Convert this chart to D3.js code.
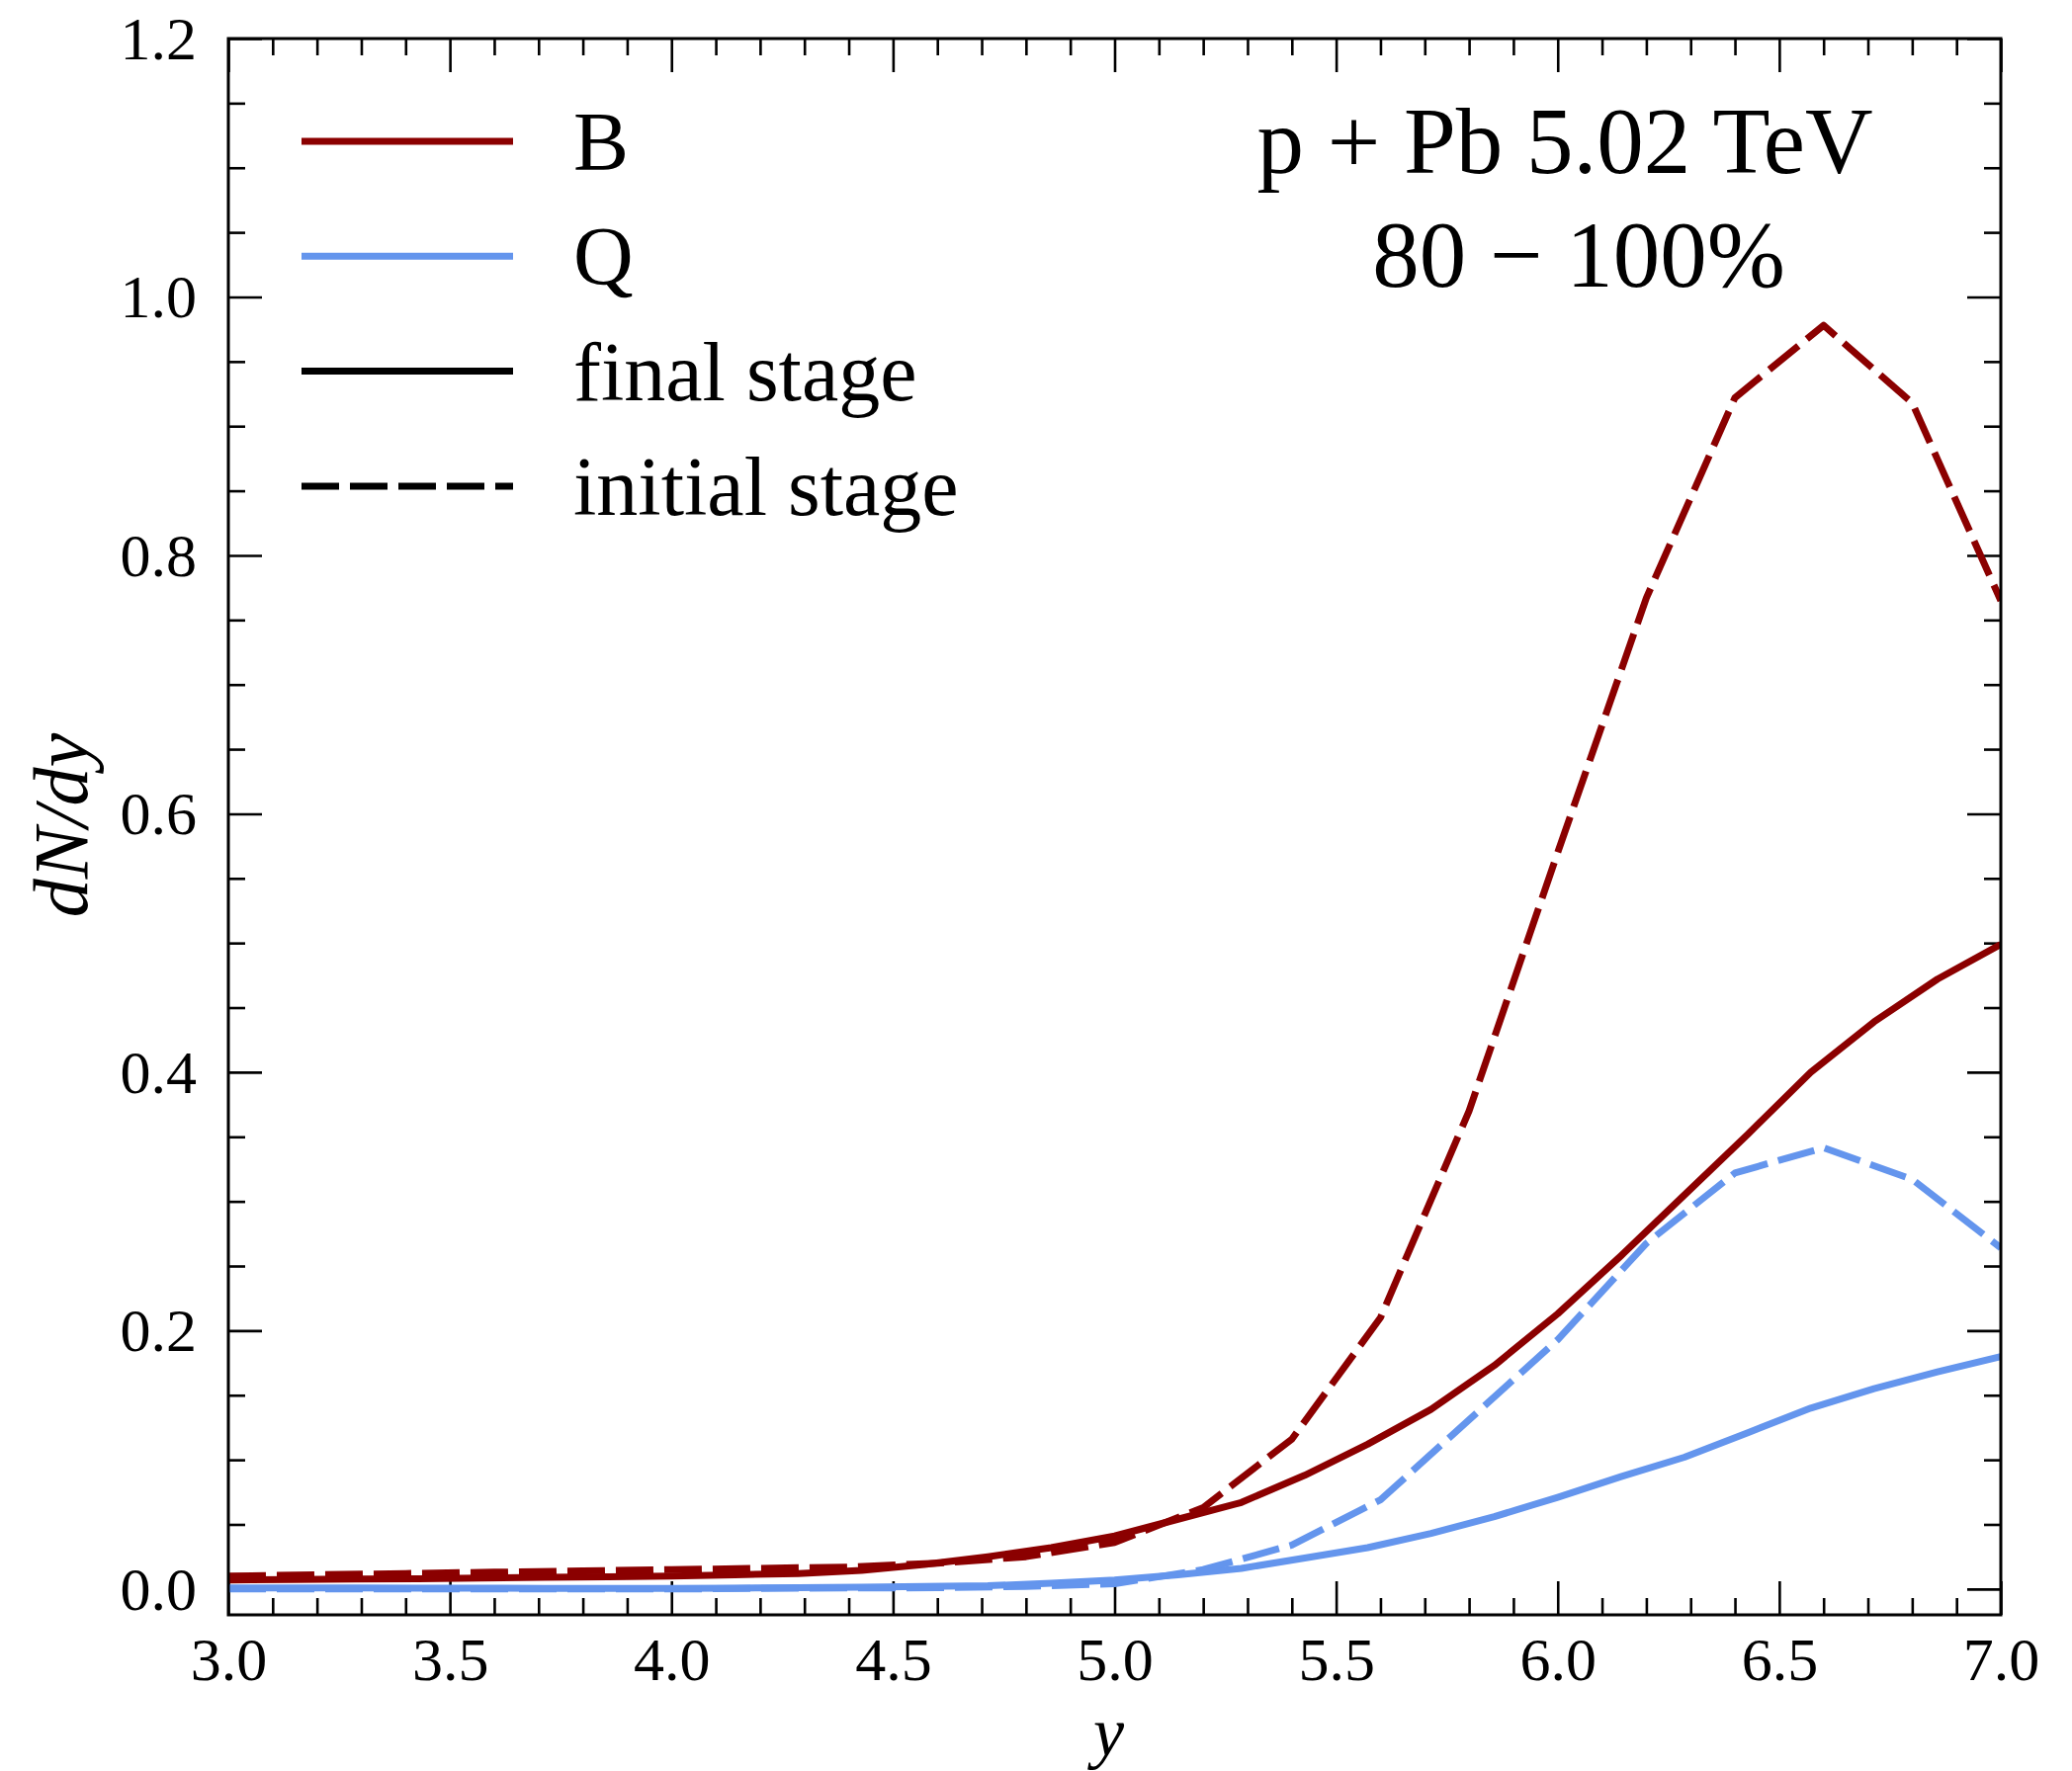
<!DOCTYPE html>
<html lang="en">

<head>
  <meta charset="utf-8">
  <title>dN/dy p+Pb 80-100%</title>
  <script src="https://d3js.org/d3.v7.min.js"></script>
  <style>
    body { margin: 0; background: #fff; }
    text { font-family: "Liberation Serif", "DejaVu Serif", serif; fill: #000; }
  </style>
</head>

<body>
  <div id="chart"></div>
  <script>
    // rapidity grid of the final stage curves
    var finalY = [3.000, 3.143, 3.286, 3.429, 3.571, 3.714, 3.857, 4.000, 4.143, 4.286, 4.429, 4.571, 4.714, 4.857,
      5.000, 5.143, 5.286, 5.429, 5.571, 5.714, 5.857, 6.000, 6.143, 6.286, 6.429, 6.571, 6.714, 6.857, 7.000];
    // rapidity grid of the initial stage curves
    var initialY = [3.0, 3.2, 3.4, 3.6, 3.8, 4.0, 4.2, 4.4, 4.6, 4.8, 5.0, 5.2, 5.4, 5.6, 5.8, 6.0, 6.2, 6.4, 6.6, 6.8, 7.0];

    var bFinal = [0.007, 0.0073, 0.0077, 0.008, 0.0085, 0.009, 0.0095, 0.010, 0.011, 0.012, 0.0145, 0.019, 0.025, 0.032,
      0.041, 0.054, 0.067, 0.088, 0.112, 0.139, 0.173, 0.213, 0.258, 0.305, 0.352, 0.400, 0.439, 0.472, 0.499];
    var qFinal = [0.0008, 0.0008, 0.0008, 0.0007, 0.0006, 0.0005, 0.0005, 0.0005, 0.0007, 0.001, 0.0015, 0.002, 0.0025, 0.0045,
      0.007, 0.011, 0.016, 0.024, 0.032, 0.043, 0.056, 0.071, 0.087, 0.102, 0.121, 0.140, 0.155, 0.168, 0.180];
    var bInitial = [0.010, 0.011, 0.012, 0.013, 0.014, 0.015, 0.016, 0.017, 0.020, 0.025, 0.036, 0.063, 0.116, 0.210,
      0.370, 0.570, 0.767, 0.922, 0.978, 0.918, 0.765];
    var qInitial = [0.000, 0.000, 0.000, 0.000, 0.000, 0.000, 0.0005, 0.0008, 0.001, 0.002, 0.004, 0.015, 0.034, 0.069,
      0.131, 0.193, 0.2675, 0.322, 0.3415, 0.317, 0.264];

    var xMajor = [3.0, 3.5, 4.0, 4.5, 5.0, 5.5, 6.0, 6.5, 7.0];
    var yMajor = [0.0, 0.2, 0.4, 0.6, 0.8, 1.0, 1.2];

    var red = '#8b0000', blue = '#6495ed';
    var dashed = '38,11';

    function draw() {
      var w = 2096, h = 1792;
      var margin = {top: 39, right: 72, bottom: 158, left: 231};
      var innerW = w - margin.left - margin.right,
        innerH = h - margin.top - margin.bottom;

      var svg = d3.select('#chart').append('svg')
          .attr('width', w)
          .attr('height', h);
      var g = svg.append('g')
          .attr('transform', 'translate(' + [margin.left, margin.top] + ')');

      var x = d3.scaleLinear().domain([3, 7]).range([0, innerW]);
      var y = d3.scaleLinear().domain([-0.02, 1.2]).range([innerH, 0]);

      // minor ticks: every 0.1 in y (rapidity), every 0.05 in dN/dy
      var xMinor = d3.range(30, 71).filter(function(d){return d % 5 !== 0;}).map(function(d){return d / 10;});
      var yMinor = d3.range(0, 25).filter(function(d){return d % 4 !== 0;}).map(function(d){return d * 0.05;});

      var fmt = d3.format('.1f');

      // ticks pointing inward on all four sides
      function ticks(axis, vals, size, labels) {
        return axis.tickValues(vals).tickSize(-size).tickFormat(labels ? fmt : '');
      }
      var bottom = g.append('g').attr('transform', 'translate(0,' + innerH + ')');
      bottom.call(ticks(d3.axisBottom(x), xMinor, 17, false));
      bottom.append('g').call(ticks(d3.axisBottom(x), xMajor, 34, true));
      var top = g.append('g');
      top.call(ticks(d3.axisTop(x), xMinor, 17, false));
      top.append('g').call(ticks(d3.axisTop(x), xMajor, 34, false));
      var left = g.append('g');
      left.call(ticks(d3.axisLeft(y), yMinor, 17, false));
      left.append('g').call(ticks(d3.axisLeft(y), yMajor, 34, true).tickPadding(32));
      var right = g.append('g').attr('transform', 'translate(' + innerW + ',0)');
      right.call(ticks(d3.axisRight(y), yMinor, 17, false));
      right.append('g').call(ticks(d3.axisRight(y), yMajor, 34, false));

      g.selectAll('.domain').remove();
      g.selectAll('.tick line').attr('stroke', '#000').attr('stroke-width', 2.6);
      g.selectAll('.tick text').style('font-family', '"Liberation Serif", serif').attr('font-size', 62);
      bottom.selectAll('.tick text').attr('y', 66).attr('dy', null);
      left.selectAll('.tick text').attr('dy', '0.33em');

      // curves
      svg.append('clipPath').attr('id', 'clip')
        .append('rect').attr('width', innerW).attr('height', innerH);
      var line = d3.line()
        .x(function(d){return x(d[0]);})
        .y(function(d){return y(d[1]);});
      var series = [
        {xs: finalY, ys: qFinal, color: blue, dash: null},
        {xs: initialY, ys: qInitial, color: blue, dash: dashed},
        {xs: finalY, ys: bFinal, color: red, dash: null},
        {xs: initialY, ys: bInitial, color: red, dash: dashed}
      ];
      g.append('g').attr('clip-path', 'url(#clip)')
        .selectAll('path').data(series).enter().append('path')
          .attr('d', function(s){return line(d3.zip(s.xs, s.ys));})
          .attr('fill', 'none')
          .attr('stroke', function(s){return s.color;})
          .attr('stroke-width', 7)
          .attr('stroke-linejoin', 'round')
          .attr('stroke-dasharray', function(s){return s.dash;});

      // frame
      g.append('rect')
        .attr('width', innerW).attr('height', innerH)
        .attr('fill', 'none').attr('stroke', '#000').attr('stroke-width', 3);

      // legend
      var legend = [
        {label: 'B', color: red, dash: null},
        {label: 'Q', color: blue, dash: null},
        {label: 'final stage', color: '#000', dash: null},
        {label: 'initial stage', color: '#000', dash: dashed}
      ];
      var item = svg.selectAll('.legend').data(legend).enter().append('g')
        .attr('class', 'legend')
        .attr('transform', function(d, i){return 'translate(' + [305, 143 + i * 116.3] + ')';});
      item.append('line')
        .attr('x1', 0).attr('x2', 214)
        .attr('stroke', function(d){return d.color;})
        .attr('stroke-width', 7)
        .attr('stroke-dasharray', function(d){return d.dash;});
      item.append('text')
        .attr('x', 275).attr('y', 29)
        .attr('font-size', 84)
        .text(function(d){return d.label;});

      // annotation
      svg.append('text')
        .attr('x', 1583).attr('y', 175)
        .attr('text-anchor', 'middle').attr('font-size', 95)
        .text('p + Pb 5.02 TeV');
      svg.append('text')
        .attr('x', 1597).attr('y', 290)
        .attr('text-anchor', 'middle').attr('font-size', 95)
        .text('80 \u2212 100%');

      // axis titles
      svg.append('text')
        .attr('x', margin.left + innerW / 2 - 6).attr('y', 1776)
        .attr('text-anchor', 'middle').attr('font-size', 70)
        .attr('font-style', 'italic')
        .text('y');
      svg.append('text')
        .attr('transform', 'translate(88,835) rotate(-90)')
        .attr('text-anchor', 'middle').attr('font-size', 78)
        .attr('font-style', 'italic')
        .text('dN/dy');
    }

    draw();
  </script>
</body>

</html>
